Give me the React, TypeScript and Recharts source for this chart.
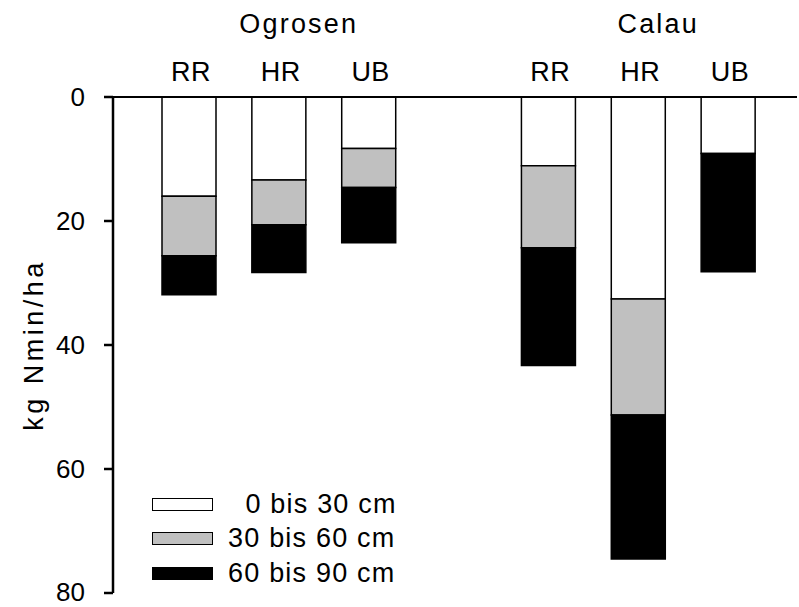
import React from "react";
import { BarChart, Bar, XAxis, YAxis, Legend } from "recharts";

const CATEGORIES = ["O-RR", "O-HR", "O-UB", "gap", "C-RR", "C-HR", "C-UB"];
const TREATMENTS = ["RR", "HR", "UB", "", "RR", "HR", "UB"];
const SITES = ["", "Ogrosen", "", "", "", "Calau", ""];

const DEPTH_0_30 = [16.0, 13.4, 8.3, null, 11.1, 32.6, 9.1];
const DEPTH_30_60 = [9.6, 7.2, 6.3, null, 13.2, 18.7, 0];
const DEPTH_60_90 = [6.3, 7.7, 8.9, null, 19.0, 23.2, 19.1];

const SERIES_NAMES = ["0 bis 30 cm", "30 bis 60 cm", "60 bis 90 cm"];
const FILLS = ["#ffffff", "#c0c0c0", "#000000"];
const Y_TICKS = [0, 20, 40, 60, 80];

const FONT = "'Liberation Sans', Arial, Helvetica, sans-serif";

const data = CATEGORIES.map((cat, i) => ({
  cat,
  d1: DEPTH_0_30[i],
  d2: DEPTH_30_60[i],
  d3: DEPTH_60_90[i],
}));

const TopTick = (props: any) => {
  const { x, y, index } = props;
  const site = SITES[index];
  return (
    <g>
      <text
        x={x + 2}
        y={y}
        textAnchor="middle"
        fontSize={27}
        fontFamily={FONT}
        letterSpacing={0.5}
        fill="#000"
      >
        {TREATMENTS[index]}
      </text>
      {site && (
        <text
          x={x + 20}
          y={y - 48}
          textAnchor="middle"
          fontSize={27}
          fontFamily={FONT}
          letterSpacing={2.2}
          fill="#000"
        >
          {site}
        </text>
      )}
    </g>
  );
};

const renderLegend = (props: any) => {
  const { payload } = props;
  return (
    <div style={{ fontFamily: FONT, fontSize: 27, color: "#000" }}>
      {(payload || []).map((entry: any, i: number) => {
        const label =
          entry.value.length < 12 ? "\u00A0\u00A0" + entry.value : entry.value;
        return (
          <div
            key={`leg-${i}`}
            style={{ display: "flex", alignItems: "center", height: 34.5 }}
          >
            <span
              style={{
                display: "inline-block",
                width: 61,
                height: 13,
                boxSizing: "border-box",
                border: "1.5px solid #000",
                background: FILLS[i],
              }}
            />
            <span style={{ marginLeft: 15, letterSpacing: 1.2, whiteSpace: "pre" }}>
              {label}
            </span>
          </div>
        );
      })}
    </div>
  );
};

export default function App() {
  return (
    <div style={{ position: "absolute", left: 0, top: 0, background: "#fff" }}>
      <BarChart
        width={799}
        height={607}
        data={data}
        margin={{ top: 0, right: 2, bottom: 14, left: 0 }}
      >
        <XAxis
          dataKey="cat"
          orientation="top"
          height={97}
          axisLine={{ stroke: "#000", strokeWidth: 2 }}
          tickLine={false}
          tickSize={0}
          tickMargin={16}
          tick={<TopTick />}
          interval={0}
          padding={{ left: 31, right: 24 }}
        />
        <YAxis
          reversed
          domain={[0, 80]}
          ticks={Y_TICKS}
          width={113}
          axisLine={{ stroke: "#000", strokeWidth: 2.5 }}
          tickLine={{ stroke: "#000", strokeWidth: 2.5 }}
          tickSize={9}
          tickMargin={19}
          tick={{ fill: "#000", fontSize: 26, fontFamily: FONT }}
          label={{
            value: "kg Nmin/ha",
            angle: -90,
            position: "insideLeft",
            offset: 33,
            textAnchor: "middle",
            style: {
              textAnchor: "middle",
              fill: "#000",
              fontSize: 27,
              fontFamily: FONT,
              letterSpacing: 3.5,
            },
          }}
        />
        <Legend
          layout="vertical"
          align="center"
          verticalAlign="middle"
          content={renderLegend}
          wrapperStyle={{ left: 152, top: 487, width: 280 }}
        />
        <Bar
          dataKey="d1"
          name={SERIES_NAMES[0]}
          stackId="a"
          fill={FILLS[0]}
          stroke="#000"
          strokeWidth={1.5}
          barSize={54}
          isAnimationActive={false}
        />
        <Bar
          dataKey="d2"
          name={SERIES_NAMES[1]}
          stackId="a"
          fill={FILLS[1]}
          stroke="#000"
          strokeWidth={1.5}
          barSize={54}
          isAnimationActive={false}
        />
        <Bar
          dataKey="d3"
          name={SERIES_NAMES[2]}
          stackId="a"
          fill={FILLS[2]}
          stroke="#000"
          strokeWidth={1.5}
          barSize={54}
          isAnimationActive={false}
        />
      </BarChart>
    </div>
  );
}
